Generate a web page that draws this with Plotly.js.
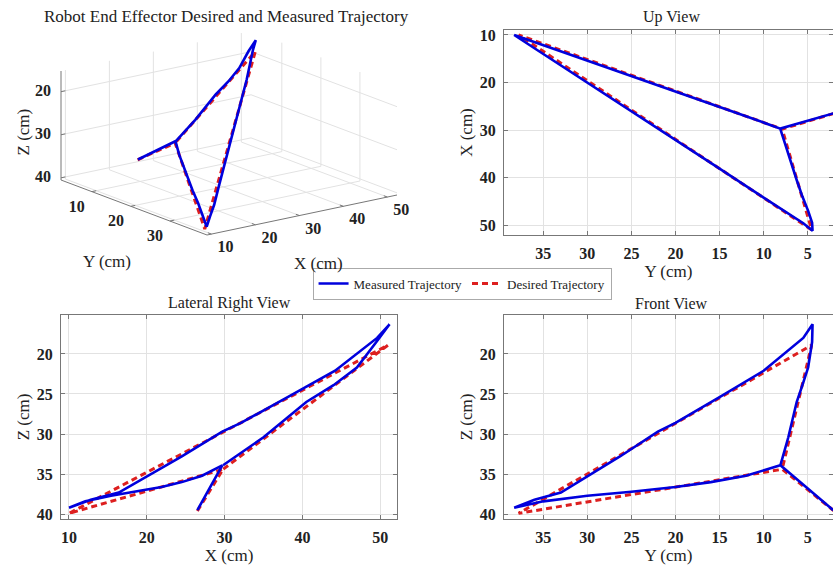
<!DOCTYPE html>
<html><head><meta charset="utf-8">
<script src="https://cdn.plot.ly/plotly-3.0.1.min.js"></script>
<style>html,body{margin:0;padding:0;background:#fff}#chart{width:833px;height:572px}</style>
</head><body><div id="chart"></div><script>
// Desired trajectory (cm): D -> C -> A -> B -> C
const desX = [26.5, 29.8, 10.0, 51.0, 29.8];
const desY = [2.0, 7.9, 37.8, 4.55, 7.9];
const desZ = [39.6, 34.4, 39.9, 18.9, 34.4];

// Measured trajectory (cm)
const meaX = [26.5, 29.7, 27.1, 24.5, 21.9, 18.6, 15.4, 12.1, 10.0,
              12.8, 16.4, 20.0, 24.5, 29.7, 32.1, 38.1, 44.2, 49.6, 51.2,
              49.5, 47.0, 44.0, 40.5, 35.0, 29.8];
const meaY = [2.1, 8.1, 12.0, 16.0, 20.0, 25.0, 30.0, 35.0, 38.3,
              36.0, 33.0, 30.0, 26.3, 22.0, 20.0, 15.0, 10.0, 5.5, 4.45,
              4.5, 4.95, 5.6, 6.25, 7.2, 8.1];
const meaZ = [39.5, 33.9, 35.2, 36.0, 36.6, 37.2, 37.7, 38.4, 39.2,
              38.2, 37.3, 35.3, 32.8, 29.7, 28.6, 25.4, 22.1, 18.0, 16.3,
              18.5, 21.7, 23.9, 26.0, 30.4, 33.9];

const xTicks = [10, 20, 30, 40, 50];
const yTicks = [35, 30, 25, 20, 15, 10, 5];
const yTicks3d = [10, 20, 30];
const zTicks = [20, 25, 30, 35, 40];
const zTicks3d = [20, 30, 40];

const SERIF = 'Liberation Serif, Times New Roman, serif';
const BLUE = '#0000dd', RED = '#dd1f1f', GRID = '#e2e2e2', AXC = '#777';
const tickFont = {family: SERIF, size: 16, color: '#222', weight: 'bold'};
const titleFont = {family: SERIF, size: 17, color: '#222'};

// ---- 3D view (orthographic projection drawn on a hidden 2D axis, pixel units) ----
const X3 = [9, 52.2], Y3 = [2.1, 39.5], Z3 = [15.2, 40.5];
const BOX = {ox: 207, oy: 235, ex: [190, -40], ey: [-146, -55], ez: [0, -109]};
function proj(X, Y, Z) {
  const fx = (X - X3[0]) / (X3[1] - X3[0]);
  const fy = (Y3[1] - Y) / (Y3[1] - Y3[0]);
  const fz = (Z3[1] - Z) / (Z3[1] - Z3[0]);
  return [BOX.ox + fx * BOX.ex[0] + fy * BOX.ey[0] + fz * BOX.ez[0],
          BOX.oy + fx * BOX.ex[1] + fy * BOX.ey[1] + fz * BOX.ez[1]];
}
function projArr(xs, ys, zs) {
  const u = [], v = [];
  xs.forEach((x, i) => { const p = proj(x, ys[i], zs[i]); u.push(p[0]); v.push(p[1]); });
  return [u, v];
}
function segs(list) {
  const u = [], v = [];
  list.forEach(([a, b]) => { const p = proj(...a), q = proj(...b); u.push(p[0], q[0], null); v.push(p[1], q[1], null); });
  return [u, v];
}
const gridSegs = [];
xTicks.forEach(x => gridSegs.push([[x, Y3[0], Z3[1]], [x, Y3[1], Z3[1]]]));       // floor
yTicks3d.forEach(y => gridSegs.push([[X3[0], y, Z3[1]], [X3[1], y, Z3[1]]]));
xTicks.forEach(x => gridSegs.push([[x, Y3[0], Z3[0]], [x, Y3[0], Z3[1]]]));       // back wall Y=min
zTicks3d.forEach(z => gridSegs.push([[X3[0], Y3[0], z], [X3[1], Y3[0], z]]));
yTicks3d.forEach(y => gridSegs.push([[X3[1], y, Z3[0]], [X3[1], y, Z3[1]]]));       // back wall X=max
zTicks3d.forEach(z => gridSegs.push([[X3[1], Y3[0], z], [X3[1], Y3[1], z]]));
const axisSegs = [
  [[X3[0], Y3[1], Z3[1]], [X3[1], Y3[1], Z3[1]]],
  [[X3[0], Y3[0], Z3[1]], [X3[0], Y3[1], Z3[1]]],
  [[X3[0], Y3[0], Z3[0]], [X3[0], Y3[0], Z3[1]]]
];
xTicks.forEach(x => axisSegs.push([[x, Y3[1], Z3[1]], [x, Y3[1] - 0.9, Z3[1]]]));
yTicks3d.forEach(y => axisSegs.push([[X3[0], y, Z3[1]], [X3[0] + 1.0, y, Z3[1]]]));
zTicks3d.forEach(z => axisSegs.push([[X3[0], Y3[0], z], [X3[0] + 1.0, Y3[0], z]]));

const traces = [];
const g = segs(gridSegs), a = segs(axisSegs);
const h3 = {xaxis: 'x5', yaxis: 'y5', showlegend: false, type: 'scatter', mode: 'lines'};
traces.push(Object.assign({x: g[0], y: g[1], line: {color: GRID, width: 1}}, h3));
traces.push(Object.assign({x: a[0], y: a[1], line: {color: AXC, width: 1}}, h3));
// tick labels
const lab = {x: [], y: [], t: []};
xTicks.forEach(x => { const p = proj(x, Y3[1], Z3[1]); lab.x.push(p[0] + 14); lab.y.push(p[1] + 14); lab.t.push(String(x)); });
yTicks3d.forEach(y => { const p = proj(X3[0], y, Z3[1]); lab.x.push(p[0] - 15); lab.y.push(p[1] + 16); lab.t.push(String(y)); });
zTicks3d.forEach(z => { const p = proj(X3[0], Y3[0], z); lab.x.push(p[0] - 18); lab.y.push(p[1]); lab.t.push(String(z)); });
traces.push(Object.assign({}, h3, {mode: 'text', x: lab.x, y: lab.y, text: lab.t, textfont: tickFont,
  textposition: 'middle center'}));
const pd = projArr(desX, desY, desZ), pm = projArr(meaX, meaY, meaZ);
traces.push(Object.assign({}, h3, {x: pd[0], y: pd[1], name: 'Desired Trajectory', showlegend: true, legendrank: 2,
  line: {color: RED, width: 3, dash: '6px,4px'}}));
traces.push(Object.assign({}, h3, {x: pm[0], y: pm[1], name: 'Measured Trajectory', showlegend: true, legendrank: 1,
  line: {color: BLUE, width: 2.6}}));

// ---- 2D views ----
function view2d(hx, hy, xa, ya) {
  traces.push({type: 'scatter', mode: 'lines', x: hx[0], y: hy[0], xaxis: xa, yaxis: ya, showlegend: false,
    line: {color: RED, width: 3, dash: '6px,4px'}});
  traces.push({type: 'scatter', mode: 'lines', x: hx[1], y: hy[1], xaxis: xa, yaxis: ya, showlegend: false,
    line: {color: BLUE, width: 2.6}});
}
view2d([desY, meaY], [desX, meaX], 'x2', 'y2');   // Up view
view2d([desX, meaX], [desZ, meaZ], 'x3', 'y3');   // Lateral right view
view2d([desY, meaY], [desZ, meaZ], 'x4', 'y4');   // Front view

function ax(extra) {
  return Object.assign({showline: true, linecolor: AXC, linewidth: 1, mirror: 'ticks', ticks: 'inside',
    ticklen: 4, tickcolor: AXC, gridcolor: GRID, zeroline: false, tickfont: tickFont,
    automargin: false, fixedrange: true, ticklabelstandoff: 4}, extra);
}

// axis-title positions for the 3D view
const midX = proj((X3[0] + X3[1]) / 2, Y3[1], Z3[1]);
const midY = proj(X3[0], (Y3[0] + Y3[1]) / 2, Z3[1]);
const midZ = proj(X3[0], Y3[0], (Z3[0] + Z3[1]) / 2);
const PW = 416.5, PH = 286;

const layout = {
  width: 833, height: 572, margin: {l: 0, r: 0, t: 0, b: 0},
  paper_bgcolor: '#fff', plot_bgcolor: 'rgba(0,0,0,0)', hovermode: false,
  font: {family: SERIF, color: '#222'},
  showlegend: true,
  legend: {orientation: 'h', x: 0.5547, y: 1 - 283.5 / 572, xanchor: 'center', yanchor: 'middle',
    bordercolor: '#aaa', borderwidth: 1, bgcolor: '#fff', font: {family: SERIF, size: 13, color: '#222'},
    traceorder: 'normal', itemwidth: 30, tracegroupgap: 0},
  xaxis5: {domain: [0, PW / 833], range: [0, PW], visible: false, fixedrange: true, anchor: 'y5'},
  yaxis5: {domain: [1 - PH / 572, 1], range: [PH, 0], visible: false, fixedrange: true, anchor: 'x5'},
  xaxis2: ax({domain: [0.605, 1], anchor: 'y2', range: [39.46, 2.13], tickvals: yTicks,
    title: {text: 'Y (cm)', font: titleFont, standoff: 2}}),
  yaxis2: ax({domain: [0.589, 0.9476], anchor: 'x2', range: [52.1, 8.95], tickvals: xTicks,
    title: {text: 'X (cm)', font: titleFont, standoff: 2}}),
  xaxis3: ax({domain: [0.0732, 0.477], anchor: 'y3', range: [8.97, 52.2], tickvals: xTicks,
    title: {text: 'X (cm)', font: titleFont, standoff: 2}}),
  yaxis3: ax({domain: [0.0927, 0.4493], anchor: 'x3', range: [40.6, 15.14], tickvals: zTicks,
    title: {text: 'Z (cm)', font: titleFont, standoff: 2}}),
  xaxis4: ax({domain: [0.605, 1], anchor: 'y4', range: [39.46, 2.13], tickvals: yTicks,
    title: {text: 'Y (cm)', font: titleFont, standoff: 2}}),
  yaxis4: ax({domain: [0.0927, 0.4493], anchor: 'x4', range: [40.6, 15.14], tickvals: zTicks,
    title: {text: 'Z (cm)', font: titleFont, standoff: 2}}),
  annotations: [
    {text: 'Robot End Effector Desired and Measured Trajectory', x: 0.2725, y: 1 - 17 / 572, font: {family: SERIF, size: 17, color: '#222'}},
    {text: 'Up View', x: 0.806, y: 1 - 17 / 572},
    {text: 'Lateral Right View', x: 0.275, y: 1 - 303 / 572},
    {text: 'Front View', x: 0.806, y: 1 - 303 / 572},
    {text: 'X (cm)', x: (midX[0] + 16) / 833, y: 1 - (midX[1] + 48) / 572, font: titleFont},
    {text: 'Y (cm)', x: (midY[0] - 27) / 833, y: 1 - (midY[1] + 54) / 572, font: titleFont},
    {text: 'Z (cm)', x: (midZ[0] - 38) / 833, y: 1 - (midZ[1] + 7) / 572, font: titleFont, textangle: -90}
  ].map(a => Object.assign({xref: 'paper', yref: 'paper', xanchor: 'center', yanchor: 'middle',
    showarrow: false, font: {family: SERIF, size: 16, color: '#222'}}, a))
};

Plotly.newPlot('chart', traces, layout, {staticPlot: true, displayModeBar: false});
</script></body></html>
